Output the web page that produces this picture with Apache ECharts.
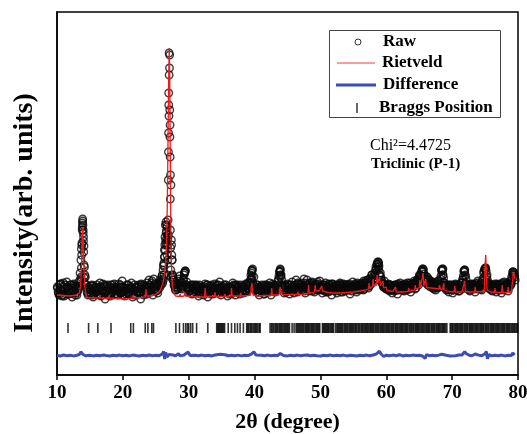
<!DOCTYPE html>
<html><head><meta charset="utf-8">
<script src="https://cdn.jsdelivr.net/npm/echarts@6/dist/echarts.min.js"></script>
<style>html,body{margin:0;padding:0;background:#fff}#c{width:527px;height:434px}</style>
</head><body><div id="c"></div>
<script>
// ---- data (intensity in arbitrary units) ----
const xTickValues = [10, 20, 30, 40, 50, 60, 70, 80];

// observed pattern, read on three interleaved 0.2-degree grids
const rawStartA = 10.10, rawStartB = 10.17, rawStartC = 10.03, rawStep = 0.2;
const rawBandA = [
 870,800,910,830,880, 790,860,930,810,850, 900,780,840,890,820, 870,930,1020,1260,1540,
 1290,980,870,800,860, 820,900,780,850,880, 810,870,920,790,840, 880,760,850,900,820,
 790,860,830,910,850, 870,800,880,820,940, 830,790,860,900,810, 850,920,780,840,870,
 800,880,830,760,900, 860,820,890,810,850, 900,830,870,960,840, 880,820,900,930,980,
 1050,1180,1350,1480,1400, 3200,1900,1150,950,880, 850,900,960,880,920, 890,1000,1040,930,870,
 840,890,810,860,900, 820,870,790,850,880, 860,800,910,830,780, 870,840,900,810,860,
 890,820,850,930,800, 860,900,830,870,790, 840,880,810,920,850, 800,870,900,830,860,
 880,820,850,910,840, 870,900,960,1060,980, 880,830,870,800,860, 900,840,810,880,830,
 860,920,800,850,890, 830,870,900,990,1060, 960,870,820,880,850, 900,810,860,930,840,
 870,950,830,880,910, 850,890,960,820,870, 900,840,880,930,860, 830,910,870,850,940,
 880,820,900,860,830, 870,910,840,800,880, 850,890,820,870,900, 830,860,910,840,880,
 900,850,810,870,930, 860,890,830,900,850, 880,920,850,890,940, 900,870,960,910,980,
 930,1000,1060,1130,1090, 1020,950,900,940,880, 860,910,840,880,820, 870,900,850,810,880,
 920,860,890,840,870, 850,900,880,830,910, 880,920,870,950,900, 940,990,1060,1010,930,
 960,900,950,880,920, 870,910,850,890,940, 880,990,1060,970,890, 850,880,830,900,860,
 820,870,910,850,880, 840,900,860,990,1050, 960,870,900,840,880, 910,860,830,890,940,
 870,910,850,900,980, 1070,1000,900,860,890, 840,880,910,830,870, 900,850,820,880,930,
 860,910,840,880,900, 950,1030,980
];
const rawBandB = [
 830,900,850,790,920, 860,810,880,840,900, 820,870,910,800,860, 840,890,960,1300,1450,
 1080,900,830,870,810, 890,840,800,870,830, 860,800,880,850,910, 820,890,840,800,870,
 900,830,870,810,850, 840,910,820,880,800, 870,850,900,820,860, 810,870,840,900,830,
 890,820,860,910,840, 800,880,840,870,950, 850,920,800,880,910, 840,900,870,920,1000,
 1090,1300,1420,1350,2700, 2500,1350,1000,900,850, 910,870,940,900,860, 950,1020,900,880,830,
 870,820,900,850,880, 900,840,880,810,860, 830,880,840,900,850, 890,810,870,840,910,
 850,900,820,870,840, 880,830,900,850,870, 810,870,850,890,830, 900,840,880,810,870,
 840,890,830,870,920, 890,950,1040,920,860, 850,900,830,880,840, 870,810,900,850,890,
 830,880,860,910,840, 890,850,940,1030,1000, 900,850,890,830,910, 860,900,840,880,820,
 900,860,920,850,880, 920,870,840,900,950, 860,920,880,840,900, 890,850,930,880,860,
 850,900,870,920,880, 830,890,860,910,850, 880,840,900,860,920, 890,830,870,900,850,
 860,910,880,840,890, 900,860,920,870,910, 860,900,940,880,920, 950,890,930,1000,950,
 970,1050,1110,1080,1000, 980,920,880,900,860, 890,850,900,860,880, 840,890,870,910,850,
 880,900,850,910,860, 900,860,920,870,890, 910,860,940,920,980, 1000,1040,1030,960,990,
 930,960,910,940,890, 920,880,930,870,910, 940,1050,1000,920,870, 900,850,880,860,890,
 850,900,860,890,840, 880,920,950,1040,1000, 910,880,850,900,860, 880,900,870,920,880,
 900,860,940,1020,1060, 1040,950,880,910,850, 890,860,880,900,850, 870,910,880,850,900,
 900,870,890,920,910, 1000,1020,950
];
const rawBandC = [
 880,820,860,910,800, 840,900,830,870,810, 870,820,900,850,880, 800,860,880,1150,1480,
 1380,1000,900,820,880, 850,800,890,830,870, 900,840,810,880,820, 850,900,830,870,800,
 880,820,900,850,880, 810,860,840,900,830, 880,840,810,870,900, 830,880,860,800,850,
 870,840,900,830,880, 840,900,860,920,830, 880,850,940,890,860, 910,850,880,950,900,
 960,1120,1250,1500,1300, 3000,2000,1200,980,900, 880,860,920,990,870, 920,950,1030,900,860,
 880,850,900,820,870, 850,890,840,900,830, 880,850,870,820,900, 840,890,850,880,820,
 870,850,900,840,880, 830,880,850,900,840, 880,820,870,860,900, 850,890,830,880,850,
 900,850,880,840,900, 860,920,1000,1040,900, 870,850,900,830,880, 840,890,860,830,900,
 880,840,890,850,870, 900,860,880,960,1040, 1000,880,850,900,830, 880,850,900,840,890,
 850,900,870,910,860, 900,850,880,920,870, 880,910,850,890,920, 870,900,860,910,880,
 900,860,880,840,900, 850,880,900,860,910, 870,900,850,890,860, 910,850,890,870,900,
 850,880,900,860,880, 880,910,850,890,870, 900,870,910,860,900, 920,950,890,940,1000,
 960,1020,1080,1100,1120, 1000,940,910,880,900, 870,900,860,900,850, 890,860,900,850,900,
 860,890,850,900,880, 880,920,860,900,880, 890,940,900,930,960, 1000,960,1040,1050,980,
 920,980,900,930,900, 900,860,920,880,900, 910,960,1040,1000,920, 880,900,860,900,870,
 900,850,880,900,860, 900,870,920,960,1040, 990,900,860,890,910, 870,900,880,910,860,
 890,880,920,960,1040, 1060,980,920,870,900, 880,900,850,890,910, 880,860,900,920,870,
 890,920,870,900,940, 980,1030,1000
];
// extra observed points on the peaks (finer step)
const rawPeaks = [
 [13.62,940],[13.66,980],[13.70,1070],[13.74,1200],[13.78,1320],[13.82,1450],[13.86,1520],[13.90,1560],
 [13.94,1500],[13.98,1420],[14.02,1340],[14.06,1230],[14.10,1100],[14.14,970],[14.20,920],
 [26.05,920],[26.15,950],[26.25,1000],[26.35,1180],[26.20,1100],[26.30,1250],[26.40,1380],[26.45,1500],
 [26.50,1320],[26.55,1530],[26.60,1440],[26.65,1300],[26.70,1200],[26.75,1400],
 [27.02,3220],[27.08,3070],[26.96,2820],[27.12,2650],[27.00,2590],[26.94,2420],[27.15,2380],[26.92,2230],
 [27.18,2180],[26.90,1950],[27.20,1760],[26.87,1550],[27.22,1450],[26.85,1370],[27.25,1270],[26.82,1150],
 [27.28,1050],[26.80,1000],[27.32,980],[27.40,1300],[27.45,1150],[27.50,1000],[27.60,950],
 [29.35,1020],[29.45,1040],[39.55,1020],[39.60,1050],[39.65,990],[39.58,960],
 [43.85,1030],[43.90,1050],[43.95,980],[58.75,1110],[58.80,1130],[58.85,1060],
 [65.55,1040],[65.60,1060],[68.55,1050],[68.60,1060],[71.85,1030],[71.90,1050],
 [74.95,1060],[75.05,1070],[79.20,1030],[79.25,1010]
];

// calculated (Rietveld) profile
const rietveld = [
 [10.0,800],[11.0,795],[12.0,790],[13.0,800],[13.4,820],[13.6,900],[13.75,1150],[13.85,1420],[13.9,1480],[13.95,1420],
 [14.05,1150],[14.2,900],[14.4,800],[14.6,775],[15.5,770],[16.4,770],[16.5,795],[16.6,770],[17.8,765],[17.9,790],
 [18.0,765],[19.3,765],[19.4,785],[19.5,765],[20.5,760],[21.5,770],[21.6,800],[21.7,770],[22.8,775],[23.4,780],
 [23.5,860],[23.6,790],[24.0,790],[24.1,810],[24.2,795],[24.8,800],[25.3,820],[25.7,850],[26.1,920],[26.4,1050],
 [26.6,1250],[26.75,1700],[26.85,2300],[26.95,2950],[27.05,3270],[27.12,2950],[27.2,2200],[27.28,1500],[27.38,1100],[27.5,920],
 [27.7,820],[28.0,790],[28.6,785],[28.7,810],[28.8,785],[29.3,790],[29.4,830],[29.5,790],[30.4,785],[31.5,780],
 [32.4,780],[32.5,870],[32.6,785],[33.9,785],[34.0,830],[34.1,785],[35.4,785],[35.5,810],[35.6,785],[36.4,785],
 [36.5,870],[36.6,790],[37.8,790],[37.9,820],[38.0,790],[39.0,795],[39.4,800],[39.5,880],[39.6,920],[39.7,830],
 [39.8,800],[40.5,790],[41.5,795],[42.5,795],[42.6,870],[42.7,800],[43.7,800],[43.8,850],[43.9,880],[44.0,810],
 [44.1,845],[44.2,805],[45.5,805],[46.5,805],[46.6,830],[46.7,805],[47.7,810],[48.1,815],[48.2,900],[48.3,820],
 [48.7,820],[49.1,830],[49.2,900],[49.3,840],[49.8,840],[50.1,845],[50.2,890],[50.3,840],[51.2,825],[52.0,820],
 [53.0,820],[54.0,825],[55.0,830],[56.0,840],[56.8,850],[57.3,860],[57.4,920],[57.5,870],[57.9,880],[58.0,960],
 [58.1,890],[58.5,900],[58.6,1000],[58.7,920],[58.9,900],[59.0,980],[59.1,890],[59.4,880],[59.5,940],[59.6,870],
 [59.9,850],[60.0,880],[60.1,845],[61.0,835],[61.3,830],[61.4,880],[61.5,830],[62.5,830],[63.3,835],[63.4,870],
 [63.5,840],[64.3,850],[64.4,900],[64.5,860],[65.0,870],[65.1,950],[65.2,880],[65.5,880],[65.6,1020],[65.7,890],
 [65.9,880],[66.0,960],[66.1,875],[66.8,870],[67.5,865],[68.0,860],[68.1,900],[68.2,860],[68.6,855],[68.7,920],
 [68.8,850],[69.5,835],[70.3,830],[70.4,890],[70.5,830],[71.5,830],[71.8,835],[71.9,940],[72.0,835],[72.8,830],
 [73.4,830],[73.5,880],[73.6,830],[74.5,835],[74.9,845],[75.0,1100],[75.1,1200],[75.2,1000],[75.3,850],[75.9,830],
 [76.4,825],[76.5,870],[76.6,825],[77.5,825],[77.6,900],[77.7,825],[78.4,825],[78.5,880],[78.6,825],[79.0,830],
 [79.2,950],[79.3,1030],[79.45,1000],[79.5,960]
];

// difference curve (observed - calculated, offset)
const difference = [
 [10,195],[10.5,190],[11,200],[11.5,193],[12,198],[12.5,191],[13,197],[13.4,205],[13.64,232],[13.9,208],[14.3,193],
 [15,198],[15.5,191],[16,197],[16.5,192],[17,199],[17.5,194],[18,190],[18.5,198],[19,193],[19.5,199],[20,192],
 [20.5,197],[21,191],[21.5,199],[22,194],[22.5,190],[23,198],[23.5,193],[24,200],[24.5,192],[25,197],[25.5,193],
 [26.0,210],[26.2,235],[26.35,160],[26.5,225],[26.7,180],[27.0,205],[27.3,185],[27.6,200],[28,193],[28.45,212],
 [28.7,191],[29.3,200],[29.9,230],[30.2,195],[30.5,191],[31,198],[31.5,193],[32,199],[32.5,192],[33,197],
 [33.5,191],[34,200],[34.8,208],[35,195],[35.5,203],[36,193],[36.5,198],[37,192],[37.5,199],[38,191],[38.5,198],
 [39,194],[39.5,208],[39.9,232],[40.2,200],[40.5,191],[41,198],[41.5,193],[42,199],[42.5,192],[43,197],[43.5,193],
 [43.9,215],[44.1,232],[44.4,195],[45,191],[45.5,198],[46,193],[46.5,199],[47,192],[47.5,197],[48,200],[48.5,192],
 [49,198],[49.5,193],[50,190],[50.5,197],[51,193],[51.5,199],[52,192],[52.5,198],[53,193],[53.5,199],[54,191],
 [54.5,197],[55,194],[55.5,190],[56,198],[56.5,193],[57,199],[57.5,192],[58,200],[58.5,210],[58.95,238],[59.2,210],
 [59.6,185],[60,198],[60.5,192],[61,199],[61.5,193],[62,203],[62.5,191],[63,197],[63.5,192],[64,199],[64.5,194],
 [65,198],[65.5,190],[65.9,165],[66.1,205],[66.5,193],[67,198],[67.5,192],[68,199],[68.4,208],[68.7,225],[69.1,198],
 [69.7,191],[70,197],[70.5,193],[71,199],[71.5,200],[71.9,232],[72.2,210],[72.6,198],[73,192],[73.5,210],[73.8,193],
 [74,199],[74.5,192],[75,212],[75.2,235],[75.35,162],[75.6,205],[76,192],[76.5,198],[77,193],[77.5,199],[78,191],
 [78.5,197],[79,194],[79.2,220],[79.5,200]
];

// Bragg reflection positions (2-theta)
const braggPositions = [
 11.67,14.8,16.2,18.2,21.2,21.6,23.4,23.8,24.4,24.65,28.05,28.6,29.2,29.55,29.8,30.0,30.3,30.6,31.2,32.9,
 34.25,34.4,34.55,34.7,34.85,35.0,35.15,35.3,35.45,36.0,36.5,37.0,37.4,37.8,38.3,38.8,38.95,39.1,39.3,39.45,
 39.6,39.8,40.0,40.15,40.3,40.5,40.7,40.85,
 42.35,42.55,42.7,42.9,43.1,43.25,43.4,43.55,43.75,43.9,44.05,44.2,44.4,44.55,44.7,44.85,45.0,45.15,45.3,45.7,
 46.0,46.3,46.45,46.6,46.75,46.9,47.05,47.2,47.35,47.5,47.7,47.85,48.0,48.15,48.3,48.5,48.65,48.8,48.95,49.1,
 49.3,49.45,49.6,49.75,49.9,50.3,50.45,50.6,50.75,50.9,51.05,51.2,51.35,51.55,51.7,51.85,52.0,52.3,52.5,52.65,
 52.8,52.95,53.1,53.25,53.4,53.6,53.75,53.9,54.05,54.2,54.4,54.55,54.7,54.85,55.0,55.2,55.35,55.5,55.7,55.85,
 56.0,56.2,56.35,56.5,56.7,56.85,57.0,57.15,57.3,57.5,57.65,57.8,57.95,58.1,58.3,58.45,58.6,58.75,58.9,59.1,
 59.25,59.4,59.55,59.7,59.9,60.05,60.2,60.35,60.5,60.7,60.85,61.0,61.15,61.35,61.5,61.65,61.8,62.0,62.15,62.3,
 62.45,62.6,62.8,62.95,63.1,63.25,63.45,63.6,63.75,63.9,64.05,64.2,64.4,64.55,64.7,64.85,65.0,65.2,65.35,65.5,
 65.65,65.8,66.0,66.15,66.3,66.45,66.6,66.8,66.95,67.1,67.25,67.4,67.6,67.75,67.9,68.05,68.2,68.4,68.55,68.7,
 68.85,69.0,69.2,69.7,69.85,70.0,70.15,70.35,70.5,70.65,70.8,70.95,71.15,71.3,71.45,71.6,71.8,71.95,72.1,72.25,
 72.4,72.6,72.75,72.9,73.05,73.2,73.4,73.55,73.7,73.85,74.0,74.2,74.35,74.5,74.65,74.8,75.0,75.15,75.3,75.45,
 75.6,75.8,75.95,76.1,76.25,76.4,76.6,76.75,76.9,77.05,77.2,77.4,77.55,77.7,77.85,78.0,78.2,78.35,78.5,78.65,
 78.8,79.0,79.15,79.3,79.45,79.6,79.8,79.95
];
const braggLevel = 470;
const legendLabels = ['Raw', 'Rietveld', 'Difference', 'Braggs Position'];
const chiText = 'Chi\u00b2=4.4725';
const phaseText = 'Triclinic (P-1)';

// ---- chart ----
const FONT = '"Liberation Serif", "Times New Roman", serif';
const onGrid = (arr, start) => arr.map((v, i) => [+(start + i * rawStep).toFixed(2), v]);
const rawData = onGrid(rawBandA, rawStartA).concat(onGrid(rawBandB, rawStartB), onGrid(rawBandC, rawStartC), rawPeaks);
const braggData = braggPositions.map(p => [p, braggLevel]);

const chart = echarts.init(document.getElementById('c'), null, {renderer: 'canvas'});
chart.setOption({
  animation: false,
  backgroundColor: '#fff',
  grid: {left: 57, right: 9, top: 12, bottom: 59, outerBoundsMode: 'none', containLabel: false,
    show: true, borderColor: '#000', borderWidth: 1.5, backgroundColor: 'transparent'},
  xAxis: {
    type: 'value', min: 10, max: 80, interval: 10,
    axisLine: {show: true, lineStyle: {color: '#000', width: 1.5}},
    axisTick: {show: true, length: 5, lineStyle: {color: '#000', width: 1.5}},
    axisLabel: {color: '#000', fontFamily: FONT, fontWeight: 'bold', fontSize: 19, margin: 9,
      formatter: v => xTickValues.includes(v) ? String(v) : ''},
    splitLine: {show: false},
    name: '2\u03b8 (degree)', nameLocation: 'middle', nameGap: 36,
    nameTextStyle: {color: '#000', fontFamily: FONT, fontWeight: 'bold', fontSize: 22}
  },
  yAxis: {
    type: 'value', min: 0, max: 3630,
    axisLine: {show: true, lineStyle: {color: '#000', width: 1.5}},
    axisTick: {show: false}, axisLabel: {show: false}, splitLine: {show: false}
  },
  series: [
    {name: 'Raw', type: 'scatter', data: rawData, symbol: 'circle', symbolSize: 7.5,
     itemStyle: {color: 'rgba(0,0,0,0)', borderColor: '#0a0a0a', borderWidth: 1.35}, z: 2, silent: true},
    {name: 'Rietveld', type: 'line', data: rietveld, showSymbol: false, symbol: 'none',
     lineStyle: {color: '#f01818', width: 1.3}, z: 4, silent: true},
    {name: 'Difference', type: 'line', data: difference, showSymbol: false, symbol: 'none',
     lineStyle: {color: '#3b4db3', width: 3}, z: 3, silent: true},
    {name: 'Braggs Position', type: 'scatter', data: braggData, symbol: 'rect', symbolSize: [1.6, 10],
     itemStyle: {color: '#000'}, z: 3, silent: true}
  ],
  graphic: [
    {type: 'text', x: 25, y: 213, rotation: Math.PI / 2,
     style: {text: 'Intensity(arb. units)', font: 'bold 28px ' + FONT, fill: '#000', align: 'center', verticalAlign: 'middle'}},
    {type: 'rect', shape: {x: 329.5, y: 30.5, width: 171, height: 87}, style: {fill: '#fff', stroke: '#444', lineWidth: 1}, z: 10},
    {type: 'circle', shape: {cx: 358, cy: 42, r: 3}, style: {fill: 'none', stroke: '#333', lineWidth: 1}, z: 11},
    {type: 'line', shape: {x1: 337, y1: 63, x2: 375, y2: 63}, style: {stroke: '#f04040', lineWidth: 1.2}, z: 11},
    {type: 'line', shape: {x1: 336, y1: 85, x2: 376, y2: 85}, style: {stroke: '#3b4db3', lineWidth: 3}, z: 11},
    {type: 'line', shape: {x1: 357, y1: 103, x2: 357, y2: 113}, style: {stroke: '#000', lineWidth: 1.2}, z: 11},
    {type: 'text', x: 383, y: 42, z: 11, style: {text: legendLabels[0], font: 'bold 17px ' + FONT, fill: '#000', verticalAlign: 'middle'}},
    {type: 'text', x: 382, y: 63, z: 11, style: {text: legendLabels[1], font: 'bold 17px ' + FONT, fill: '#000', verticalAlign: 'middle'}},
    {type: 'text', x: 383, y: 85, z: 11, style: {text: legendLabels[2], font: 'bold 17px ' + FONT, fill: '#000', verticalAlign: 'middle'}},
    {type: 'text', x: 379, y: 108, z: 11, style: {text: legendLabels[3], font: 'bold 17px ' + FONT, fill: '#000', verticalAlign: 'middle'}},
    {type: 'text', x: 370, y: 146, z: 11, style: {text: chiText, font: '16px ' + FONT, fill: '#000', verticalAlign: 'middle'}},
    {type: 'text', x: 371, y: 164, z: 11, style: {text: phaseText, font: 'bold 15px ' + FONT, fill: '#000', verticalAlign: 'middle'}}
  ]
});
</script></body></html>
